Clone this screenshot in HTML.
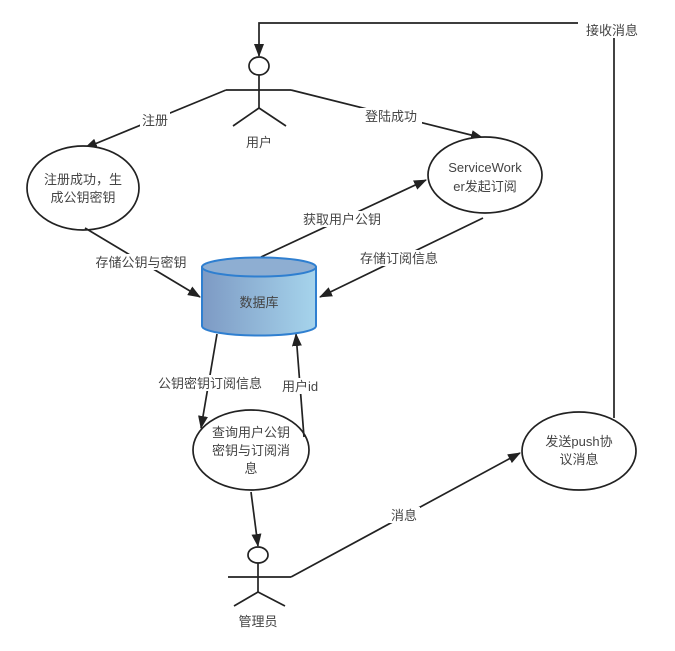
<!DOCTYPE html>
<html><head><meta charset="utf-8"><style>
html,body{margin:0;padding:0;background:#fff;}
svg{display:block;}
text{font-family:"Liberation Sans","Noto Sans CJK SC",sans-serif;font-size:13px;fill:#444;text-anchor:middle;}
</style></head><body>
<svg width="675" height="651" viewBox="0 0 675 651" xmlns="http://www.w3.org/2000/svg">
<defs>
<marker id="a" markerWidth="13" markerHeight="10" refX="12" refY="5" orient="auto" markerUnits="userSpaceOnUse"><path d="M0,0 L13,5 L0,10 Z" fill="#222"/></marker>
<linearGradient id="g" x1="0" x2="1" y1="0" y2="0"><stop offset="0" stop-color="#7d9ac4"/><stop offset="1" stop-color="#a6d4ec"/></linearGradient>
</defs>
<g stroke="#222" stroke-width="1.7" fill="none">
<polyline points="614,418 614,38"/>
<polyline points="583,23 259,23 259,56" marker-end="url(#a)"/>
<ellipse cx="259" cy="66" rx="10" ry="9" fill="#fff"/>
<line x1="259" y1="75" x2="259" y2="108"/><line x1="226" y1="90" x2="291" y2="90"/>
<line x1="259" y1="108" x2="233" y2="126"/><line x1="259" y1="108" x2="286" y2="126"/>
<line x1="226" y1="90" x2="85" y2="148" marker-end="url(#a)"/>
<line x1="291" y1="90" x2="483" y2="138" marker-end="url(#a)"/>
<ellipse cx="83" cy="188" rx="56" ry="42" fill="#fff"/>
<ellipse cx="485" cy="175" rx="57" ry="38" fill="#fff"/>
<ellipse cx="251" cy="450" rx="58" ry="40" fill="#fff"/>
<ellipse cx="579" cy="451" rx="57" ry="39" fill="#fff"/>
<line x1="85" y1="228" x2="200" y2="297" marker-end="url(#a)"/>
<line x1="261" y1="257" x2="426" y2="180" marker-end="url(#a)"/>
<line x1="483" y1="218" x2="320" y2="297" marker-end="url(#a)"/>
<line x1="217" y1="334" x2="201" y2="428" marker-end="url(#a)"/>
<line x1="304" y1="437" x2="296" y2="334" marker-end="url(#a)"/>
<line x1="251" y1="492" x2="258" y2="546" marker-end="url(#a)"/>
<ellipse cx="258" cy="555" rx="10" ry="8" fill="#fff"/>
<line x1="258" y1="563" x2="258" y2="592"/><line x1="228" y1="577" x2="291" y2="577"/>
<line x1="258" y1="592" x2="234" y2="606"/><line x1="258" y1="592" x2="285" y2="606"/>
<line x1="291" y1="577" x2="520" y2="453" marker-end="url(#a)"/>
</g>
<path d="M202,267 L202,326 A57,9.5 0 0 0 316,326 L316,267" fill="url(#g)" stroke="#2f7fd0" stroke-width="2"/>
<ellipse cx="259" cy="267" rx="57" ry="9.5" fill="#8eaed2" stroke="#2f7fd0" stroke-width="2"/>
<g fill="#fff">
<rect x="578" y="20" width="68" height="18"/>
<rect x="140" y="112" width="30" height="16"/>
<rect x="360" y="108" width="62" height="16"/>
<rect x="96" y="254" width="90" height="16"/>
<rect x="300" y="211" width="84" height="16"/>
<rect x="356" y="250" width="86" height="16"/>
<rect x="152" y="375" width="116" height="16"/>
<rect x="282" y="378" width="38" height="16"/>
<rect x="388" y="507" width="32" height="16"/>
</g>
<text x="612" y="35">接收消息</text>
<text x="259" y="147">用户</text>
<text x="155" y="125">注册</text>
<text x="391" y="121">登陆成功</text>
<text x="83" y="184">注册成功，生</text>
<text x="83" y="202">成公钥密钥</text>
<text x="485" y="172">ServiceWork</text>
<text x="485" y="191">er发起订阅</text>
<text x="141" y="267">存储公钥与密钥</text>
<text x="342" y="224">获取用户公钥</text>
<text x="399" y="263">存储订阅信息</text>
<text x="259" y="307">数据库</text>
<text x="210" y="388">公钥密钥订阅信息</text>
<text x="300" y="391">用户id</text>
<text x="251" y="437">查询用户公钥</text>
<text x="251" y="455">密钥与订阅消</text>
<text x="251" y="473">息</text>
<text x="579" y="446">发送push协</text>
<text x="579" y="464">议消息</text>
<text x="404" y="520">消息</text>
<text x="258" y="626">管理员</text>
</svg>
</body></html>
